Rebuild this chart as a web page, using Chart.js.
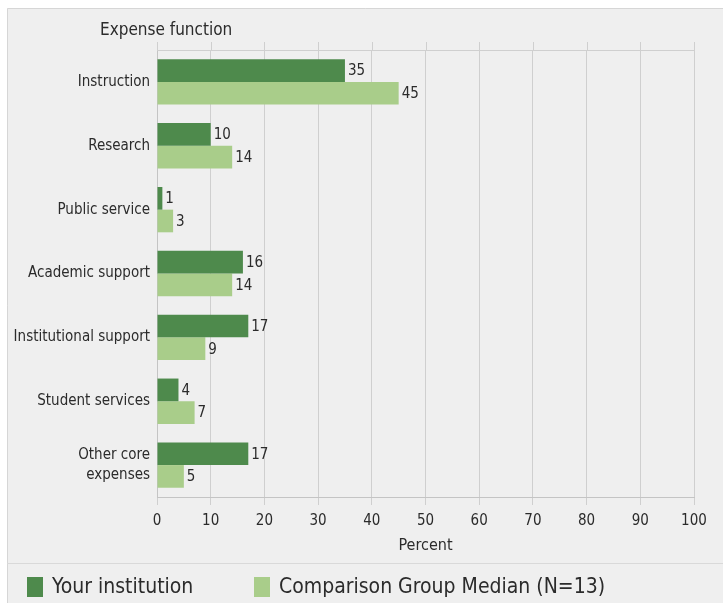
<!DOCTYPE html>
<html>
<head>
<meta charset="utf-8">
<script src="https://cdn.jsdelivr.net/npm/chart.js@4.4.1/dist/chart.umd.min.js"></script>
<style>
  html, body { margin: 0; padding: 0; background: #fff; }
  #wrap { width: 723px; height: 603px; position: relative; }
</style>
</head>
<body>
<div id="wrap"><canvas id="chart-expense"></canvas></div>
<script>
// ── Data ─────────────────────────────────────────────
const categories   = ['Instruction', 'Research', 'Public service', 'Academic support',
                      'Institutional support', 'Student services', ['Other core', 'expenses']];
const yourInst     = [35, 10, 1, 16, 17, 4, 17];
const groupMedian  = [45, 14, 3, 14, 9, 7, 5];
const xTicks       = [0, 10, 20, 30, 40, 50, 60, 70, 80, 90, 100];

const fontFam  = '"DejaVu Sans Condensed", "Liberation Sans", sans-serif';
const textCol  = '#2b2b2b';
const gridCol  = '#cfcfcf';

// ── Frame, header, legend ────────────────────────────
const framePlugin = {
    id: 'frame',
    beforeDraw(chart) {
        const c = chart.ctx;
        c.save();
        c.fillStyle = '#ffffff';
        c.fillRect(0, 0, chart.width, chart.height);
        c.fillStyle = '#efefef';
        c.fillRect(7, 8, chart.width - 7, chart.height - 8);
        c.strokeStyle = '#d6d6d6';
        c.lineWidth = 1;
        c.beginPath();
        c.moveTo(7.5, chart.height); c.lineTo(7.5, 8.5); c.lineTo(chart.width, 8.5);
        c.stroke();
        // separator above legend
        c.beginPath();
        c.moveTo(7, 563.5); c.lineTo(chart.width, 563.5);
        c.strokeStyle = '#d9d9d9';
        c.stroke();
        c.restore();
    },
    afterDraw(chart) {
        const c = chart.ctx, area = chart.chartArea, xs = chart.scales.x;
        c.save();
        // top edge of plot + short tick stubs above it
        c.strokeStyle = gridCol;
        c.lineWidth = 1;
        c.beginPath();
        c.moveTo(area.left, Math.round(area.top) + 0.5);
        c.lineTo(area.right, Math.round(area.top) + 0.5);
        xTicks.forEach(v => {
            const px = Math.round(xs.getPixelForValue(v)) + 0.5;
            c.moveTo(px, area.top - 8); c.lineTo(px, area.top);
        });
        c.stroke();
        // y axis heading
        c.fillStyle = textCol;
        c.font = '17px ' + fontFam;
        c.textBaseline = 'middle';
        c.textAlign = 'left';
        c.fillText('Expense function', 100, 31);
        // legend
        const items = chart.data.datasets;
        const xs0 = [27, 254];
        c.font = '21px ' + fontFam;
        items.forEach((ds, i) => {
            c.fillStyle = ds.backgroundColor;
            c.fillRect(xs0[i], 577, 16, 20);
            c.fillStyle = textCol;
            c.fillText(ds.label, xs0[i] + 25, 588);
        });
        c.restore();
    }
};

// ── Value labels at bar ends ─────────────────────────
const valueLabels = {
    id: 'valueLabels',
    afterDatasetsDraw(chart) {
        const c = chart.ctx;
        c.save();
        c.font = '15px ' + fontFam;
        c.fillStyle = textCol;
        c.textAlign = 'left';
        c.textBaseline = 'middle';
        chart.data.datasets.forEach((ds, i) => {
            chart.getDatasetMeta(i).data.forEach((bar, j) => {
                c.fillText(ds.data[j], bar.x + 3, bar.y + 1);
            });
        });
        c.restore();
    }
};

new Chart(document.getElementById('chart-expense'), {
    type: 'bar',
    data: {
        labels: categories,
        datasets: [
            {
                label: 'Your institution',
                data: yourInst,
                backgroundColor: '#4e8a4c',
                categoryPercentage: 0.71,
                barPercentage: 1.0,
            },
            {
                label: 'Comparison Group Median (N=13)',
                data: groupMedian,
                backgroundColor: '#a9cd8a',
                categoryPercentage: 0.71,
                barPercentage: 1.0,
            }
        ]
    },
    options: {
        indexAxis: 'y',
        responsive: true,
        maintainAspectRatio: false,
        animation: false,
        layout: { padding: { left: 0, right: 29, top: 50, bottom: 42 } },
        plugins: {
            legend: { display: false },
            tooltip: { enabled: false }
        },
        scales: {
            x: {
                min: 0, max: 100,
                afterBuildTicks: s => { s.ticks = xTicks.map(v => ({ value: v })); },
                afterFit: s => { s.height = 64; },
                grid: { color: gridCol, tickLength: 8, tickColor: gridCol },
                border: { color: '#c4c4c4' },
                ticks: { font: { family: fontFam, size: 15 }, color: textCol, padding: 7, maxRotation: 0 },
                title: { display: true, text: 'Percent', font: { family: fontFam, size: 16 }, color: textCol,
                         padding: { top: 0, bottom: 6 } }
            },
            y: {
                afterFit: s => { s.width = 157; },
                grid: { display: false, drawTicks: false },
                border: { display: true, color: '#c4c4c4' },
                ticks: { font: { family: fontFam, size: 15, lineHeight: 1.3 }, color: textCol, padding: 7 }
            }
        }
    },
    plugins: [framePlugin, valueLabels]
});
</script>
</body>
</html>
